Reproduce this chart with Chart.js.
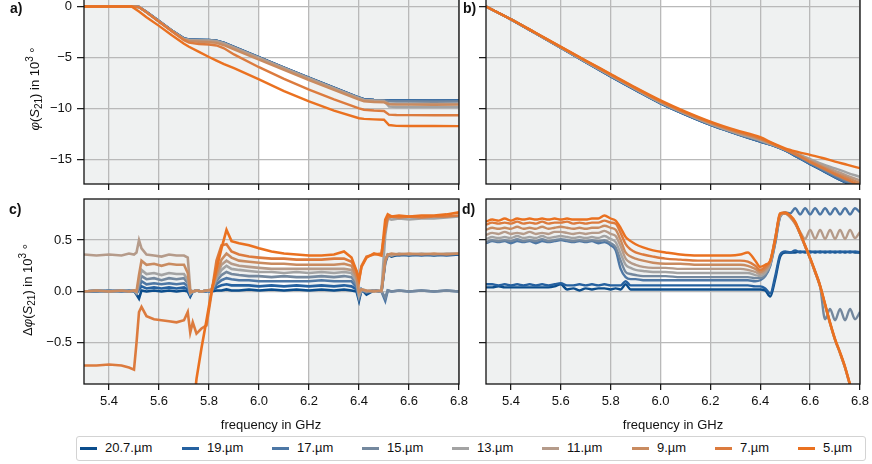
<!DOCTYPE html>
<html><head><meta charset="utf-8">
<script src="https://cdn.jsdelivr.net/npm/chart.js@4"></script>
<style>
body{margin:0;width:872px;height:464px;position:relative;overflow:hidden;background:#fff;font-family:'Liberation Sans',Arial,sans-serif;color:#111}
.w{position:absolute}
.lab{position:absolute;font-weight:bold;font-size:14px;line-height:14px}
.yt{position:absolute;font-size:13px;white-space:nowrap;transform:translate(-50%,-50%) rotate(-90deg)}
.yt sub,.yt sup{font-size:10px;line-height:0}
.xt{position:absolute;font-size:13px;white-space:nowrap;transform:translate(-50%,-50%)}
#legend{position:absolute;left:76px;top:436px;width:788px;height:23px;border:1px solid #d3d3d3;border-radius:3px;background:#fff}
.sw{position:absolute;top:10px;width:17px;height:3px}
.lt{position:absolute;top:3px;font-size:13px;line-height:16px;white-space:nowrap}
</style></head><body>
<div class="w" style="left:0;top:-9px"><canvas id="ca" width="470" height="205"></canvas></div>
<div class="w" style="left:440px;top:-9px"><canvas id="cb" width="432" height="205"></canvas></div>
<div class="w" style="left:0;top:189px"><canvas id="cc" width="470" height="223"></canvas></div>
<div class="w" style="left:440px;top:189px"><canvas id="cd" width="432" height="223"></canvas></div>
<div class="lab" style="left:10px;top:1px">a)</div>
<div class="lab" style="left:463px;top:1px">b)</div>
<div class="lab" style="left:9px;top:202px">c)</div>
<div class="lab" style="left:462px;top:202px">d)</div>
<div class="yt" style="left:34px;top:89px"><i>φ</i>(<i>S</i><sub>21</sub>) in 10<sup>3</sup> °</div>
<div class="yt" style="left:27px;top:290px">Δ<i>φ</i>(<i>S</i><sub>21</sub>) in 10<sup>3</sup> °</div>
<div class="xt" style="left:271px;top:424px">frequency in GHz</div>
<div class="xt" style="left:673px;top:424px">frequency in GHz</div>
<div id="legend"></div>
<script>
// ---------- data ----------
const seriesLabels = ['20.7.µm','19.µm','17.µm','15.µm','13.µm','11.µm','9.µm','7.µm','5.µm'];
const xTicks = [5.4,5.6,5.8,6.0,6.2,6.4,6.6,6.8];
const phaseTicks = [0,-5,-10,-15];
const deltaTicks = [-0.5,0,0.5];

// panel a: measured phase
const fA = [5.30,5.40,5.49,5.52,5.55,5.60,5.65,5.70,5.72,5.76,5.80,5.83,5.86,5.90,6.00,6.10,6.20,6.30,6.40,6.42,6.46,6.50,6.52,6.55,6.60,6.70,6.80];
const a207 = [0,0,0,-0.04,-0.52,-1.42,-2.32,-3.12,-3.22,-3.26,-3.28,-3.34,-3.55,-3.95,-4.97,-5.98,-6.98,-7.95,-8.92,-9.08,-9.15,-9.18,-9.2,-9.2,-9.2,-9.21,-9.2];
const a19 = [0,0,0,-0.04,-0.53,-1.43,-2.33,-3.13,-3.23,-3.27,-3.29,-3.35,-3.56,-3.96,-4.98,-5.99,-6.99,-7.96,-8.93,-9.09,-9.16,-9.19,-9.21,-9.21,-9.22,-9.21,-9.22];
const a17 = [0,0,0,-0.05,-0.54,-1.44,-2.34,-3.14,-3.24,-3.28,-3.3,-3.36,-3.57,-3.97,-4.99,-6.0,-7.0,-7.97,-8.94,-9.1,-9.17,-9.2,-9.22,-9.23,-9.23,-9.22,-9.23];
const a15 = [0,0,0,-0.05,-0.55,-1.45,-2.35,-3.16,-3.26,-3.3,-3.32,-3.38,-3.6,-4.0,-5.02,-6.03,-7.03,-8.0,-8.97,-9.13,-9.2,-9.23,-9.3,-9.32,-9.32,-9.33,-9.32];
const a13 = [0,0,0,-0.05,-0.55,-1.46,-2.36,-3.18,-3.28,-3.32,-3.34,-3.4,-3.62,-4.02,-5.04,-6.05,-7.05,-8.02,-8.99,-9.15,-9.22,-9.26,-9.8,-9.85,-9.85,-9.86,-9.85];
const a11 = [0,0,0,-0.05,-0.55,-1.46,-2.37,-3.2,-3.32,-3.36,-3.38,-3.44,-3.66,-4.06,-5.08,-6.09,-7.09,-8.06,-9.03,-9.19,-9.26,-9.3,-9.52,-9.55,-9.55,-9.56,-9.55];
const a9 = [0,0,0,-0.06,-0.56,-1.47,-2.38,-3.24,-3.4,-3.46,-3.5,-3.57,-3.8,-4.2,-5.22,-6.22,-7.22,-8.18,-9.13,-9.29,-9.36,-9.4,-9.58,-9.62,-9.62,-9.63,-9.62];
const a7 = [0,0,0,-0.06,-0.57,-1.49,-2.4,-3.3,-3.55,-3.68,-3.72,-3.82,-4.1,-4.7,-5.95,-7.1,-8.15,-9.1,-9.98,-10.12,-10.2,-10.24,-10.6,-10.64,-10.65,-10.66,-10.66];
const a5 = [0,0,0,-0.5,-1.05,-1.9,-2.8,-3.65,-3.95,-4.45,-4.95,-5.3,-5.65,-6.05,-7.15,-8.3,-9.3,-10.2,-10.95,-11.02,-11.07,-11.1,-11.62,-11.7,-11.72,-11.72,-11.73];

// panel b: simulated phase
const fB = [5.30,5.40,5.50,5.60,5.70,5.80,5.90,6.00,6.10,6.20,6.30,6.40,6.45,6.50,6.55,6.60,6.65,6.70,6.75,6.80];
const b207 = [0,-1.26,-2.65,-4.05,-5.46,-6.86,-8.2,-9.5,-10.6,-11.6,-12.45,-13.25,-13.62,-14.12,-14.78,-15.45,-16.1,-16.75,-17.35,-17.95];
const b19 = [0,-1.26,-2.65,-4.05,-5.45,-6.85,-8.19,-9.49,-10.59,-11.59,-12.44,-13.24,-13.61,-14.11,-14.77,-15.43,-16.08,-16.72,-17.33,-17.93];
const b17 = [0,-1.26,-2.64,-4.04,-5.44,-6.83,-8.17,-9.47,-10.57,-11.58,-12.43,-13.22,-13.6,-14.1,-14.75,-15.4,-16.05,-16.7,-17.3,-17.9];
const b15 = [0,-1.26,-2.63,-4.03,-5.42,-6.8,-8.14,-9.44,-10.54,-11.55,-12.4,-13.18,-13.58,-14.05,-14.65,-15.3,-15.95,-16.55,-17.15,-17.75];
const b13 = [0,-1.25,-2.62,-4.01,-5.4,-6.77,-8.1,-9.4,-10.5,-11.5,-12.36,-13.12,-13.55,-14.0,-14.45,-14.95,-15.45,-15.87,-16.3,-16.7];
const b11 = [0,-1.25,-2.62,-4.0,-5.38,-6.74,-8.08,-9.36,-10.47,-11.47,-12.32,-13.06,-13.52,-14.0,-14.5,-15.05,-15.6,-16.1,-16.6,-17.05];
const b9 = [0,-1.25,-2.61,-3.98,-5.35,-6.7,-8.05,-9.32,-10.43,-11.42,-12.26,-13.0,-13.5,-14.0,-14.55,-15.15,-15.75,-16.3,-16.8,-17.3];
const b7 = [0,-1.25,-2.6,-3.96,-5.32,-6.66,-8.0,-9.27,-10.38,-11.36,-12.2,-12.92,-13.45,-14.0,-14.6,-15.25,-15.85,-16.45,-17.0,-17.55];
const b5 = [0,-1.25,-2.6,-3.95,-5.3,-6.62,-7.95,-9.2,-10.3,-11.28,-12.1,-12.8,-13.4,-13.9,-14.25,-14.55,-14.85,-15.2,-15.52,-15.85];

// panel c: measured phase difference
const fC = [5.30,5.35,5.40,5.45,5.48,5.50,5.51,5.52,5.53,5.55,5.58,5.61,5.64,5.67,5.70,5.715,5.725,5.735,5.75,5.77,5.79,5.81,5.83,5.85,5.87,5.89,5.92,5.96,6.00,6.05,6.10,6.15,6.20,6.25,6.30,6.34,6.37,6.39,6.40,6.41,6.43,6.46,6.49,6.505,6.515,6.53,6.56,6.60,6.65,6.70,6.75,6.80];
const c207 = [0.00,0.01,0.00,0.01,0.00,0.01,-0.03,-0.07,0.01,0.00,0.01,0.00,0.01,0.00,0.01,0.00,-0.05,0.00,0.01,0.00,0.01,0.00,0.01,0.01,0.02,0.01,0.01,0.02,0.01,0.02,0.01,0.02,0.01,0.02,0.01,0.02,0.01,0.00,-0.09,0.02,-0.03,0.01,0.00,0.30,0.36,0.34,0.36,0.35,0.36,0.35,0.36,0.36];
const c19 = [0.00,0.00,0.01,0.00,0.01,0.00,-0.02,0.02,0.05,0.03,0.04,0.03,0.04,0.03,0.04,0.02,-0.04,0.00,0.01,0.00,0.00,0.01,0.04,0.06,0.07,0.06,0.06,0.06,0.05,0.06,0.05,0.06,0.05,0.06,0.05,0.06,0.05,0.02,-0.06,0.01,0.00,0.01,0.00,0.28,0.35,0.36,0.35,0.36,0.35,0.36,0.35,0.36];
const c17 = [0.00,0.01,0.00,0.01,0.00,0.01,-0.02,0.04,0.10,0.07,0.08,0.07,0.08,0.07,0.08,0.05,-0.03,0.00,0.01,0.00,0.01,0.00,0.07,0.11,0.13,0.12,0.11,0.11,0.10,0.10,0.10,0.10,0.10,0.11,0.10,0.10,0.10,0.04,-0.07,0.01,-0.01,0.01,0.00,-0.09,0.01,0.00,0.01,0.00,0.01,0.00,0.01,0.00];
const c15 = [0.00,0.00,0.01,0.00,0.01,0.00,-0.02,0.07,0.15,0.12,0.13,0.11,0.13,0.12,0.13,0.08,-0.02,0.00,0.01,0.00,0.01,0.01,0.10,0.16,0.19,0.17,0.16,0.15,0.15,0.14,0.15,0.14,0.14,0.15,0.14,0.15,0.14,0.07,-0.05,0.02,0.00,0.01,0.00,-0.06,0.01,0.00,0.01,0.00,0.01,0.00,0.01,0.00];
const c13 = [0.00,0.01,0.00,0.01,0.00,0.01,-0.01,0.10,0.21,0.17,0.18,0.16,0.18,0.17,0.17,0.11,-0.02,0.00,0.01,0.00,0.01,0.01,0.13,0.21,0.25,0.22,0.21,0.20,0.19,0.19,0.18,0.19,0.18,0.19,0.18,0.19,0.18,0.10,-0.04,0.02,0.01,0.00,0.01,0.55,0.71,0.70,0.71,0.70,0.71,0.71,0.72,0.73];
const c11 = [0.36,0.35,0.36,0.35,0.37,0.36,0.38,0.50,0.42,0.36,0.35,0.34,0.36,0.35,0.35,0.33,0.02,0.00,0.01,0.00,0.01,0.01,0.15,0.26,0.30,0.27,0.25,0.24,0.23,0.22,0.22,0.22,0.22,0.22,0.22,0.22,0.21,0.13,-0.02,0.02,0.00,0.01,0.00,0.30,0.36,0.35,0.37,0.36,0.37,0.36,0.37,0.37];
const c9 = [0.00,0.01,0.00,0.01,0.00,0.01,0.00,0.16,0.30,0.26,0.27,0.25,0.27,0.26,0.26,0.18,-0.01,0.00,0.01,0.00,0.01,0.02,0.17,0.31,0.37,0.33,0.30,0.29,0.28,0.27,0.27,0.26,0.26,0.26,0.26,0.27,0.25,0.15,0.00,0.02,0.01,0.00,0.01,0.30,0.36,0.37,0.36,0.37,0.36,0.37,0.36,0.37];
const c7 = [-0.72,-0.72,-0.71,-0.72,-0.74,-0.76,-0.50,-0.20,-0.15,-0.24,-0.27,-0.28,-0.29,-0.30,-0.28,-0.20,-0.40,-0.30,-0.41,-0.36,-0.33,-0.02,0.30,0.45,0.46,0.39,0.36,0.34,0.33,0.32,0.32,0.31,0.31,0.31,0.32,0.32,0.29,0.20,0.10,0.25,0.34,0.36,0.37,0.60,0.72,0.73,0.72,0.73,0.72,0.73,0.73,0.74];
const c5 = [null,null,null,null,null,null,null,null,null,null,null,null,null,null,null,null,null,-1.2,-0.85,-0.55,-0.28,0.0,0.22,0.42,0.6,0.49,0.47,0.45,0.42,0.39,0.37,0.36,0.35,0.35,0.36,0.39,0.33,0.2,0.12,0.24,0.33,0.37,0.35,0.70,0.75,0.73,0.74,0.73,0.74,0.74,0.75,0.77];

// panel d: simulated phase difference
const fD = [5.30,5.325,5.35,5.375,5.40,5.425,5.45,5.475,5.50,5.525,5.55,5.575,5.60,5.625,5.65,5.675,5.70,5.725,5.75,5.775,5.80,5.82,5.84,5.86,5.88,5.90,5.93,5.97,6.02,6.08,6.15,6.22,6.28,6.32,6.35,6.38,6.40,6.42,6.44,6.46,6.48,6.50,6.52,6.54,6.56,6.58,6.60,6.62,6.64,6.66,6.68,6.70,6.72,6.74,6.76,6.78,6.80];
const d207 = [0.04,0.04,0.05,0.04,0.04,0.04,0.04,0.04,0.04,0.04,0.04,0.05,0.07,0.02,0.03,0.01,0.03,0.02,0.03,0.03,0.02,0.03,0.02,0.07,0.02,0.02,0.02,0.02,0.02,0.02,0.02,0.02,0.02,0.02,0.02,0.02,0.02,0.01,-0.05,0.12,0.34,0.38,0.38,0.38,0.39,0.38,0.39,0.38,0.39,0.38,0.39,0.38,0.39,0.38,0.39,0.38,0.38];
const d19 = [0.07,0.07,0.06,0.07,0.06,0.07,0.06,0.07,0.06,0.07,0.06,0.07,0.08,0.06,0.06,0.07,0.06,0.07,0.06,0.07,0.06,0.06,0.06,0.10,0.06,0.06,0.06,0.06,0.06,0.06,0.06,0.06,0.06,0.06,0.06,0.05,0.05,0.03,-0.02,0.15,0.36,0.39,0.38,0.40,0.38,0.39,0.38,0.39,0.38,0.39,0.38,0.39,0.38,0.39,0.38,0.39,0.38];
const d17 = [0.47,0.49,0.48,0.49,0.47,0.49,0.48,0.49,0.47,0.49,0.48,0.49,0.50,0.49,0.48,0.49,0.48,0.49,0.47,0.48,0.45,0.40,0.22,0.14,0.12,0.12,0.11,0.11,0.11,0.11,0.11,0.11,0.11,0.11,0.11,0.10,0.11,0.15,0.25,0.47,0.73,0.77,0.76,0.81,0.75,0.81,0.75,0.81,0.75,0.81,0.75,0.81,0.75,0.81,0.75,0.81,0.77];
const d15 = [0.48,0.50,0.49,0.50,0.49,0.51,0.49,0.50,0.49,0.51,0.49,0.50,0.51,0.50,0.49,0.50,0.49,0.50,0.49,0.50,0.47,0.43,0.30,0.19,0.17,0.16,0.15,0.15,0.15,0.14,0.14,0.14,0.14,0.14,0.14,0.13,0.13,0.16,0.26,0.48,0.73,0.76,0.73,0.67,0.56,0.44,0.32,0.19,0.05,-0.27,-0.17,-0.28,-0.17,-0.28,-0.17,-0.27,-0.20];
const d13 = [0.51,0.53,0.52,0.53,0.52,0.54,0.52,0.53,0.52,0.54,0.52,0.53,0.54,0.53,0.52,0.53,0.52,0.53,0.52,0.54,0.51,0.48,0.37,0.26,0.23,0.21,0.20,0.19,0.19,0.18,0.18,0.18,0.18,0.18,0.18,0.16,0.15,0.18,0.27,0.50,0.74,0.76,0.73,0.67,0.56,0.44,0.32,0.19,0.05,-0.13,-0.31,-0.47,-0.60,-0.74,-0.91,-1.06,-1.21];
const d11 = [0.55,0.57,0.56,0.58,0.56,0.57,0.56,0.58,0.56,0.57,0.56,0.58,0.58,0.57,0.56,0.57,0.56,0.57,0.57,0.59,0.56,0.54,0.44,0.32,0.28,0.26,0.24,0.23,0.23,0.22,0.22,0.22,0.22,0.22,0.21,0.19,0.17,0.20,0.28,0.52,0.74,0.76,0.72,0.66,0.58,0.51,0.60,0.51,0.60,0.51,0.60,0.51,0.60,0.51,0.60,0.52,0.58];
const d9 = [0.60,0.62,0.61,0.62,0.61,0.63,0.61,0.62,0.61,0.63,0.61,0.62,0.63,0.62,0.61,0.62,0.61,0.62,0.62,0.64,0.62,0.60,0.50,0.38,0.34,0.32,0.30,0.28,0.27,0.27,0.26,0.26,0.26,0.26,0.25,0.22,0.19,0.22,0.29,0.52,0.75,0.76,0.73,0.66,0.56,0.44,0.32,0.19,0.05,-0.13,-0.31,-0.47,-0.60,-0.74,-0.91,-1.06,-1.21];
const d7 = [0.65,0.67,0.66,0.67,0.66,0.68,0.66,0.67,0.66,0.68,0.66,0.67,0.67,0.68,0.66,0.67,0.66,0.67,0.67,0.69,0.67,0.66,0.57,0.46,0.41,0.38,0.36,0.34,0.32,0.31,0.30,0.30,0.30,0.30,0.29,0.25,0.21,0.24,0.30,0.52,0.76,0.76,0.73,0.67,0.56,0.44,0.32,0.19,0.05,-0.13,-0.31,-0.47,-0.60,-0.74,-0.91,-1.06,-1.21];
const d5 = [0.68,0.70,0.69,0.71,0.69,0.71,0.70,0.71,0.70,0.71,0.70,0.71,0.70,0.71,0.70,0.70,0.70,0.71,0.71,0.74,0.71,0.69,0.62,0.53,0.49,0.46,0.43,0.40,0.38,0.36,0.35,0.35,0.35,0.36,0.38,0.30,0.24,0.26,0.30,0.50,0.76,0.77,0.74,0.68,0.57,0.45,0.33,0.20,0.06,-0.12,-0.30,-0.46,-0.59,-0.73,-0.90,-1.05,-1.20];

// ---------- styling ----------
const seriesColors = ['#0b4d8c','#2561a0','#4d77a5','#74889e','#a3a3a3','#b59b8a','#c98b60','#dc7b3e','#ea7120'];
const FONT = "'Liberation Sans', Arial, sans-serif";
Chart.defaults.font.family = FONT;
Chart.defaults.font.size = 13;
Chart.defaults.color = '#111';

const bgPlugin = {
  id: 'bgframe',
  beforeDraw(chart) {
    const {ctx, chartArea: a} = chart;
    const x = chart.scales.x;
    ctx.save();
    ctx.fillStyle = '#eff1f1';
    ctx.fillRect(a.left, a.top, a.right - a.left, a.bottom - a.top);
    const x0 = x.getPixelForValue(6.0), x1 = x.getPixelForValue(6.2);
    ctx.fillStyle = '#ffffff';
    ctx.fillRect(x0, a.top, x1 - x0, a.bottom - a.top);
    ctx.restore();
  },
  afterDatasetsDraw(chart) {
    const {ctx, chartArea: a} = chart;
    ctx.save();
    ctx.strokeStyle = '#111';
    ctx.lineWidth = 1.3;
    ctx.strokeRect(a.left, a.top, a.right - a.left, a.bottom - a.top);
    ctx.restore();
  }
};

const fmtPhase = v => v === 0 ? '0' : '\u2212' + Math.abs(v);
const fmtDelta = v => (v < 0 ? '\u2212' : '') + Math.abs(v).toFixed(1);

function makeChart(id, freq, series, cfg) {
  const datasets = series.map((ys, i) => ({
    label: seriesLabels[i],
    data: freq.map((f, k) => ({x: f, y: ys[k]})),
    borderColor: seriesColors[i],
    backgroundColor: seriesColors[i],
    borderWidth: cfg.lw,
    pointRadius: 0,
    order: series.length - 1 - i,
    clip: 0,
    tension: 0,
    cubicInterpolationMode: cfg.smooth ? 'monotone' : 'default',
    spanGaps: false
  }));
  const gridStyle = {color: '#b9b9b9', lineWidth: 1.3, tickLength: 6, tickColor: '#111', tickWidth: 1.2, drawTicks: true};
  return new Chart(document.getElementById(id), {
    type: 'line',
    data: {datasets},
    options: {
      responsive: false, animation: false, devicePixelRatio: 1, events: [],
      layout: {padding: {left: 0, top: cfg.padTop, right: cfg.padRight, bottom: 0}},
      plugins: {legend: {display: false}, tooltip: {enabled: false}, title: {display: false}},
      scales: {
        x: {
          type: 'linear', min: 5.3, max: 6.8,
          afterBuildTicks: s => { s.ticks = xTicks.map(v => ({value: v})); },
          ticks: {autoSkip: false, maxRotation: 0, padding: 4, color: '#111', font: {size: 13, family: FONT},
                  callback: v => cfg.xLabels ? Number(v).toFixed(1) : ''},
          grid: gridStyle,
          border: {display: false},
          afterFit: s => { s.height = cfg.xh; s.paddingLeft = 0; s.paddingRight = 0; }
        },
        y: {
          type: 'linear', min: cfg.ymin, max: cfg.ymax,
          afterBuildTicks: s => { s.ticks = cfg.yTicks.map(v => ({value: v})); },
          ticks: {autoSkip: false, padding: 5, color: '#111', font: {size: 13, family: FONT},
                  callback: v => cfg.yLabels ? cfg.fmt(v) : ''},
          grid: Object.assign({}, gridStyle, {tickLength: 7}),
          border: {display: false},
          afterFit: s => { s.width = cfg.yw; s.paddingTop = 0; s.paddingBottom = 0; }
        }
      }
    },
    plugins: [bgPlugin]
  });
}

const PH_MAX = 0.735, PH_MIN = -17.40;
makeChart('ca', fA, [a207,a19,a17,a15,a13,a11,a9,a7,a5],
  {lw: 2.4, smooth: false, padTop: 8, padRight: 11, xh: 12, yw: 84, ymin: PH_MIN, ymax: PH_MAX, yTicks: phaseTicks, fmt: fmtPhase, xLabels: false, yLabels: true});
makeChart('cb', fB, [b207,b19,b17,b15,b13,b11,b9,b7,b5],
  {lw: 2.4, smooth: true, padTop: 8, padRight: 12, xh: 12, yw: 46, ymin: PH_MIN, ymax: PH_MAX, yTicks: phaseTicks, fmt: fmtPhase, xLabels: false, yLabels: false});
makeChart('cc', fC, [c207,c19,c17,c15,c13,c11,c9,c7,c5],
  {lw: 2.6, smooth: false, padTop: 10, padRight: 11, xh: 28, yw: 84, ymin: -0.9, ymax: 0.9, yTicks: deltaTicks, fmt: fmtDelta, xLabels: true, yLabels: true});
makeChart('cd', fD, [d207,d19,d17,d15,d13,d11,d9,d7,d5],
  {lw: 2.4, smooth: true, padTop: 10, padRight: 12, xh: 28, yw: 46, ymin: -0.9, ymax: 0.9, yTicks: deltaTicks, fmt: fmtDelta, xLabels: true, yLabels: false});

// legend (HTML)
const legendSwatchX = [80,182,272,362,452,542,632,715,798];
const lg = document.getElementById('legend');
seriesLabels.forEach((t, i) => {
  const sw = document.createElement('div');
  sw.className = 'sw';
  sw.style.left = (legendSwatchX[i] - 77) + 'px';
  sw.style.background = seriesColors[i];
  lg.appendChild(sw);
  const tx = document.createElement('div');
  tx.className = 'lt';
  tx.style.left = (legendSwatchX[i] - 77 + 25) + 'px';
  tx.textContent = t;
  lg.appendChild(tx);
});
</script>
</body></html>
